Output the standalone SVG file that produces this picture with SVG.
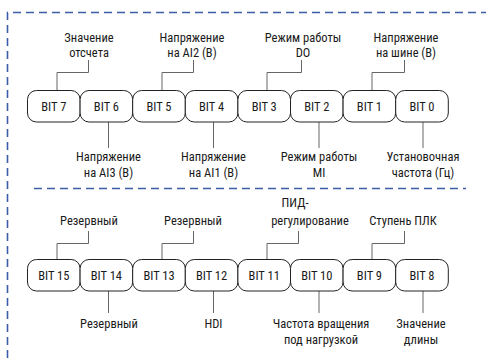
<svg xmlns="http://www.w3.org/2000/svg" width="486" height="358" viewBox="0 0 486 358">
<style>
.frame{fill:none;stroke:#3d5ca8;stroke-width:1.6;stroke-dasharray:8 5}
.box{fill:#fff;stroke:#222;stroke-width:1}
.bt{font-family:"Roboto Condensed","DejaVu Sans Condensed","Liberation Sans Narrow","Liberation Sans",sans-serif;font-size:12.5px;fill:#1a1a1a;text-anchor:middle}
.lb{font-family:"Roboto Condensed","DejaVu Sans Condensed","Liberation Sans Narrow","Liberation Sans",sans-serif;font-size:12.5px;fill:#1a1a1a;text-anchor:middle}
.cn{fill:none;stroke:#666;stroke-width:1}
</style>
<rect width="486" height="358" fill="#fff"/>
<g id="frame">
<path class="frame" d="M7.5 358 V12.5 H486"/>
<path class="frame" d="M34 188.5 H466"/>
</g>
<g id="connectors">
<path class="cn" d="M57 90 V72.5 H88.5 V60"/>
<path class="cn" d="M162 90 V72.5 H193.5 V60"/>
<path class="cn" d="M267 90 V72.5 H301.5 V60"/>
<path class="cn" d="M372 90 V72.5 H404.5 V60"/>
<path class="cn" d="M108.5 122 V148"/>
<path class="cn" d="M213.5 122 V148"/>
<path class="cn" d="M319 122 V148"/>
<path class="cn" d="M423 122 V148"/>
<path class="cn" d="M57 260 V243.5 H88.5 V231"/>
<path class="cn" d="M162 260 V243.5 H193.5 V231"/>
<path class="cn" d="M267 260 V243.5 H298.5 V231"/>
<path class="cn" d="M372 260 V243.5 H404.5 V231"/>
<path class="cn" d="M108.5 291 V313"/>
<path class="cn" d="M213.5 291 V313"/>
<path class="cn" d="M319 291 V313"/>
<path class="cn" d="M423 291 V313"/>
</g>
<g id="bit7"><rect class="box" x="27.5" y="90.5" width="52.6" height="31.5" rx="9"/><text class="bt" x="53.8" y="110.8">BIT 7</text></g>
<g id="bit6"><rect class="box" x="80.1" y="90.5" width="52.6" height="31.5" rx="9"/><text class="bt" x="106.4" y="110.8">BIT 6</text></g>
<g id="bit5"><rect class="box" x="132.7" y="90.5" width="52.6" height="31.5" rx="9"/><text class="bt" x="159" y="110.8">BIT 5</text></g>
<g id="bit4"><rect class="box" x="185.3" y="90.5" width="52.6" height="31.5" rx="9"/><text class="bt" x="211.6" y="110.8">BIT 4</text></g>
<g id="bit3"><rect class="box" x="237.9" y="90.5" width="52.6" height="31.5" rx="9"/><text class="bt" x="264.2" y="110.8">BIT 3</text></g>
<g id="bit2"><rect class="box" x="290.5" y="90.5" width="52.6" height="31.5" rx="9"/><text class="bt" x="316.8" y="110.8">BIT 2</text></g>
<g id="bit1"><rect class="box" x="343.1" y="90.5" width="52.6" height="31.5" rx="9"/><text class="bt" x="369.4" y="110.8">BIT 1</text></g>
<g id="bit0"><rect class="box" x="395.7" y="90.5" width="52.6" height="31.5" rx="9"/><text class="bt" x="422" y="110.8">BIT 0</text></g>
<g id="bit15"><rect class="box" x="27.5" y="259.5" width="52.6" height="31.5" rx="9"/><text class="bt" x="53.8" y="279.8">BIT 15</text></g>
<g id="bit14"><rect class="box" x="80.1" y="259.5" width="52.6" height="31.5" rx="9"/><text class="bt" x="106.4" y="279.8">BIT 14</text></g>
<g id="bit13"><rect class="box" x="132.7" y="259.5" width="52.6" height="31.5" rx="9"/><text class="bt" x="159" y="279.8">BIT 13</text></g>
<g id="bit12"><rect class="box" x="185.3" y="259.5" width="52.6" height="31.5" rx="9"/><text class="bt" x="211.6" y="279.8">BIT 12</text></g>
<g id="bit11"><rect class="box" x="237.9" y="259.5" width="52.6" height="31.5" rx="9"/><text class="bt" x="264.2" y="279.8">BIT 11</text></g>
<g id="bit10"><rect class="box" x="290.5" y="259.5" width="52.6" height="31.5" rx="9"/><text class="bt" x="316.8" y="279.8">BIT 10</text></g>
<g id="bit9"><rect class="box" x="343.1" y="259.5" width="52.6" height="31.5" rx="9"/><text class="bt" x="369.4" y="279.8">BIT 9</text></g>
<g id="bit8"><rect class="box" x="395.7" y="259.5" width="52.6" height="31.5" rx="9"/><text class="bt" x="422" y="279.8">BIT 8</text></g>
<g id="labels">
<text class="lb" x="89" y="42">Значение</text><text class="lb" x="89" y="57">отсчета</text>
<text class="lb" x="192" y="42">Напряжение</text><text class="lb" x="192" y="57">на AI2 (В)</text>
<text class="lb" x="303" y="42">Режим работы</text><text class="lb" x="303" y="57">DO</text>
<text class="lb" x="406" y="42">Напряжение</text><text class="lb" x="406" y="57">на шине (В)</text>
<text class="lb" x="108.5" y="161">Напряжение</text><text class="lb" x="108.5" y="177">на AI3 (В)</text>
<text class="lb" x="213.5" y="161">Напряжение</text><text class="lb" x="213.5" y="177">на AI1 (В)</text>
<text class="lb" x="319" y="161">Режим работы</text><text class="lb" x="319" y="177">MI</text>
<text class="lb" x="423" y="161">Установочная</text><text class="lb" x="423" y="177">частота (Гц)</text>
<text class="lb" x="89" y="225">Резервный</text>
<text class="lb" x="193" y="225">Резервный</text>
<text class="lb" x="295" y="207">ПИД-</text><text class="lb" x="310" y="225">регулирование</text>
<text class="lb" x="403" y="225">Ступень ПЛК</text>
<text class="lb" x="109" y="328">Резервный</text>
<text class="lb" x="213.5" y="328">HDI</text>
<text class="lb" x="321" y="328">Частота вращения</text><text class="lb" x="321" y="344">под нагрузкой</text>
<text class="lb" x="421" y="328">Значение</text><text class="lb" x="421" y="344">длины</text>
</g>
</svg>
